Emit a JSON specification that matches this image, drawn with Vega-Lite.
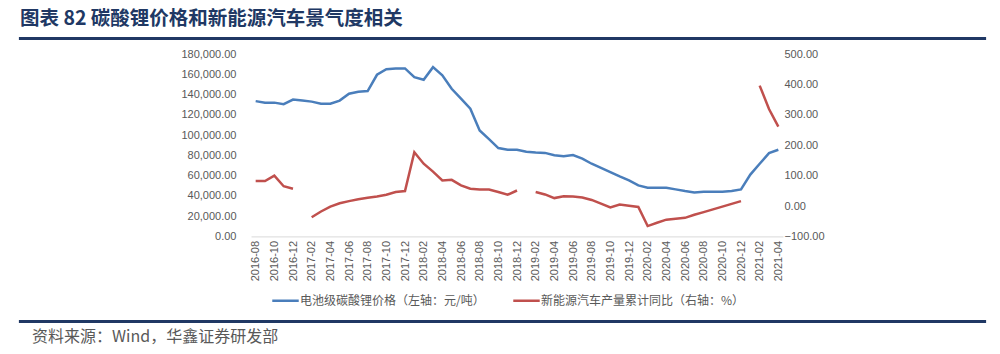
{
  "$schema": "https://vega.github.io/schema/vega-lite/v6.json",
  "background": "white",
  "padding": {"left": 18, "top": 8, "right": 0, "bottom": 0},
  "config": {"view": {"stroke": null}, "font": "Noto Sans CJK SC"},
  "datasets": {
    "d": [
      {"month":"2016-08","price":133500,"nev":82},
      {"month":"2016-09","price":132000,"nev":82},
      {"month":"2016-10","price":132000,"nev":100},
      {"month":"2016-11","price":130500,"nev":65},
      {"month":"2016-12","price":135000,"nev":57},
      {"month":"2017-01","price":134000,"nev":null},
      {"month":"2017-02","price":133000,"nev":-37},
      {"month":"2017-03","price":131000,"nev":-18},
      {"month":"2017-04","price":131000,"nev":-2},
      {"month":"2017-05","price":134000,"nev":9},
      {"month":"2017-06","price":140800,"nev":16},
      {"month":"2017-07","price":142800,"nev":22},
      {"month":"2017-08","price":143400,"nev":27},
      {"month":"2017-09","price":159500,"nev":31},
      {"month":"2017-10","price":165000,"nev":37},
      {"month":"2017-11","price":165800,"nev":46},
      {"month":"2017-12","price":165800,"nev":49},
      {"month":"2018-01","price":157200,"nev":177},
      {"month":"2018-02","price":154600,"nev":139},
      {"month":"2018-03","price":167000,"nev":113},
      {"month":"2018-04","price":158900,"nev":84},
      {"month":"2018-05","price":145700,"nev":86},
      {"month":"2018-06","price":135900,"nev":68},
      {"month":"2018-07","price":126000,"nev":57},
      {"month":"2018-08","price":104600,"nev":54},
      {"month":"2018-09","price":96000,"nev":54},
      {"month":"2018-10","price":87200,"nev":46},
      {"month":"2018-11","price":85500,"nev":37},
      {"month":"2018-12","price":85500,"nev":51},
      {"month":"2019-01","price":83500,"nev":null},
      {"month":"2019-02","price":82800,"nev":46},
      {"month":"2019-03","price":82400,"nev":38},
      {"month":"2019-04","price":80000,"nev":26},
      {"month":"2019-05","price":79000,"nev":32},
      {"month":"2019-06","price":80200,"nev":31},
      {"month":"2019-07","price":76700,"nev":28},
      {"month":"2019-08","price":71700,"nev":20},
      {"month":"2019-09","price":67700,"nev":8},
      {"month":"2019-10","price":63500,"nev":-5},
      {"month":"2019-11","price":59200,"nev":5},
      {"month":"2019-12","price":55300,"nev":1},
      {"month":"2020-01","price":50300,"nev":-3},
      {"month":"2020-02","price":48000,"nev":-66},
      {"month":"2020-03","price":48000,"nev":-55},
      {"month":"2020-04","price":48000,"nev":-45},
      {"month":"2020-05","price":46400,"nev":-42},
      {"month":"2020-06","price":44700,"nev":-39},
      {"month":"2020-07","price":43400,"nev":-29},
      {"month":"2020-08","price":44100,"nev":-20},
      {"month":"2020-09","price":44100,"nev":-11},
      {"month":"2020-10","price":44100,"nev":-2},
      {"month":"2020-11","price":44700,"nev":7},
      {"month":"2020-12","price":46400,"nev":16},
      {"month":"2021-01","price":61000,"nev":null},
      {"month":"2021-02","price":71700,"nev":396},
      {"month":"2021-03","price":82200,"nev":319},
      {"month":"2021-04","price":85500,"nev":261}
    ]
  },
  "spacing": 5,
  "resolve": {"scale": {"color": "independent"}, "legend": {"color": "independent"}},
  "vconcat": [
    {
      "data": {"values": [{}]},
      "width": 965,
      "height": 1,
      "view": {"stroke": "#203864", "strokeWidth": 2.2},
      "title": {"text": "图表 82 碳酸锂价格和新能源汽车景气度相关", "anchor": "start", "fontSize": 19.5, "fontWeight": "bold", "color": "#203864", "font": "Noto Sans CJK SC", "offset": 6},
      "mark": {"type": "point", "opacity": 0},
      "encoding": {}
    },
    {
      "spacing": 0,
      "resolve": {"scale": {"color": "independent"}, "legend": {"color": "independent"}},
      "hconcat": [
        {
          "data": {"values": [{}]},
          "width": 160,
          "height": 258,
          "mark": {"type": "point", "opacity": 0},
          "encoding": {}
        },
        {
          "data": {"name": "d"},
          "width": 532,
          "height": 182.4,
          "encoding": {
            "x": {
              "field": "month", "type": "ordinal", "sort": null,
              "scale": {"type": "point", "padding": 0.5},
              "axis": {
                "title": null,
                "values": ["2016-08","2016-10","2016-12","2017-02","2017-04","2017-06","2017-08","2017-10","2017-12","2018-02","2018-04","2018-06","2018-08","2018-10","2018-12","2019-02","2019-04","2019-06","2019-08","2019-10","2019-12","2020-02","2020-04","2020-06","2020-08","2020-10","2020-12","2021-02","2021-04"],
                "labelAngle": -90,
                "labelFont": "Liberation Sans",
                "labelFontSize": 11,
                "labelColor": "#595959",
                "labelPadding": 4,
                "ticks": false,
                "grid": false,
                "domainColor": "#d9d9d9",
                "domainWidth": 1
              }
            }
          },
          "layer": [
            {
              "mark": {"type": "line", "strokeWidth": 2.5, "invalid": "break-paths-show-domains"},
              "encoding": {
                "y": {
                  "field": "price", "type": "quantitative",
                  "scale": {"domain": [0, 180000], "nice": false, "zero": false},
                  "axis": {
                    "orient": "left", "title": null, "grid": false, "domain": false, "ticks": false,
                    "values": [0,20000,40000,60000,80000,100000,120000,140000,160000,180000],
                    "format": ",.2f",
                    "labelFont": "Liberation Sans", "labelFontSize": 11, "labelColor": "#595959", "labelPadding": 15
                  }
                },
                "color": {
                  "datum": "电池级碳酸锂价格（左轴：元/吨）", "type": "nominal",
                  "scale": {"domain": ["电池级碳酸锂价格（左轴：元/吨）", "新能源汽车产量累计同比（右轴：%）"], "range": ["#4a7ebb", "#c0504d"]},
                  "legend": {
                    "orient": "none", "legendX": 20, "legendY": 232, "direction": "horizontal", "title": null,
                    "symbolType": "stroke", "symbolSize": 700, "symbolStrokeWidth": 2.5,
                    "labelFontSize": 12, "labelColor": "#595959", "labelLimit": 400,
                    "columnPadding": 23, "labelOffset": 0
                  }
                }
              }
            },
            {
              "mark": {"type": "line", "strokeWidth": 2.5, "invalid": "break-paths-show-domains"},
              "encoding": {
                "y": {
                  "field": "nev", "type": "quantitative",
                  "scale": {"domain": [-100, 500], "nice": false, "zero": false},
                  "axis": {
                    "orient": "right", "title": null, "grid": false, "domain": false, "ticks": false,
                    "values": [-100,0,100,200,300,400,500],
                    "format": ".2f",
                    "labelFont": "Liberation Sans", "labelFontSize": 11, "labelColor": "#595959", "labelPadding": 1
                  }
                },
                "color": {"datum": "新能源汽车产量累计同比（右轴：%）", "type": "nominal"}
              }
            }
          ],
          "resolve": {"scale": {"y": "independent"}}
        }
      ]
    },
    {
      "data": {"values": [{}]},
      "width": 965,
      "height": 1,
      "view": {"stroke": "#203864", "strokeWidth": 2.2},
      "title": {"text": "资料来源：Wind，华鑫证券研发部", "orient": "bottom", "anchor": "start", "fontSize": 16, "fontWeight": "normal", "color": "#595959", "font": "Noto Sans CJK SC", "dx": 12, "offset": 4.5},
      "mark": {"type": "point", "opacity": 0},
      "encoding": {}
    }
  ]
}
